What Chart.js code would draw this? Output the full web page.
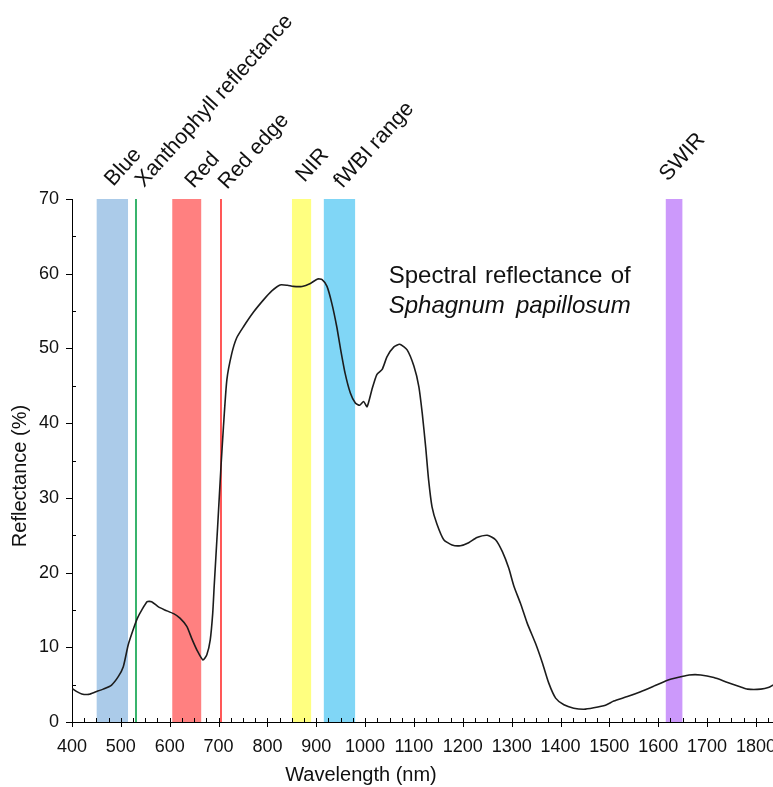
<!DOCTYPE html>
<html><head><meta charset="utf-8">
<script src="https://cdn.jsdelivr.net/npm/chart.js@4.4.1/dist/chart.umd.min.js"></script>
<style>html,body{margin:0;padding:0;background:#fff;}#wrap{width:773px;height:787px;position:relative;}</style>
</head><body><div id="wrap"><canvas id="c" width="773" height="787"></canvas></div>
<script>
// ---- data ----
const wavelengths = [400,409,420,434,449,464,481,495,505,515,526,534,543,554,563,577,590,608,621,635,645,656,668,676,683,688,691,698,705,710,717,727,737,751,772,792,809,826,841,853,871,888,903,912,922,932,942,949,959,970,980,989,997,1004,1014,1024,1035,1045,1059,1071,1086,1100,1110,1117,1124,1130,1137,1147,1161,1178,1195,1212,1229,1250,1267,1281,1294,1305,1318,1332,1349,1363,1376,1390,1407,1427,1448,1468,1492,1509,1537,1564,1591,1619,1646,1663,1687,1714,1742,1769,1783,1810,1827,1835];
const reflectance = [4.5,4.1,3.75,3.7,4.05,4.4,4.95,6.1,7.4,10.3,12.5,13.9,15.0,16.1,16.1,15.4,15.0,14.5,13.9,12.8,11.2,9.6,8.3,9.0,11.0,14.5,18.1,26.0,34.2,39.5,45.8,49.3,51.4,52.9,54.9,56.5,57.7,58.5,58.45,58.3,58.3,58.7,59.3,59.2,58.3,56.0,52.9,50.2,46.7,44.0,42.7,42.4,42.9,42.2,44.5,46.5,47.2,48.9,50.2,50.55,49.8,47.6,44.9,41.3,36.8,32.4,28.8,26.5,24.4,23.7,23.6,24.0,24.7,25.0,24.4,22.8,20.6,18.1,15.9,13.2,10.5,7.9,5.2,3.2,2.3,1.85,1.7,1.9,2.25,2.8,3.4,4.05,4.8,5.6,6.05,6.3,6.3,5.95,5.3,4.7,4.4,4.4,4.65,4.95];
const bandNames = ['Blue','Red','NIR','fWBI range','SWIR'];
const bandStart = [450,605,850,915,1615];
const bandEnd = [515,665,890,980,1650];
const bandTop = [70,70,70,70.2,70];
const lineNames = ['Xanthophyll reflectance','Red edge'];
const lineWavelengths = [531,705];
const xTicks = [400,500,600,700,800,900,1000,1100,1200,1300,1400,1500,1600,1700,1800];
const yTicks = [0,10,20,30,40,50,60,70];
const xTitle = 'Wavelength (nm)';
const yTitle = 'Reflectance (%)';
const noteLines = ['Spectral reflectance of','Sphagnum papillosum'];

// ---- styles ----
const FONT = "'Liberation Sans', Arial, sans-serif";
const bandColors = ['#abcbe9','#ff8080','#ffff80','#80d6f6','#cc99fb'];
const lineColors = ['#38b46c','#ff2020'];

const datasets = [];
datasets.push({
  label:'Spectrum',
  data: wavelengths.map((w,i)=>({x:w,y:reflectance[i]})),
  borderColor:'#1c1c1c', borderWidth:1.6, pointRadius:0, tension:0.2, fill:false, order:0
});
lineWavelengths.forEach((w,i)=>datasets.push({
  label: lineNames[i],
  data:[{x:w,y:0},{x:w,y:70}],
  borderColor: lineColors[i], borderWidth: i===0?2:1.5, pointRadius:0, fill:false, order:1
}));
bandNames.forEach((n,i)=>datasets.push({
  label:n,
  data:[{x:bandStart[i],y:bandTop[i]},{x:bandEnd[i],y:bandTop[i]}],
  borderWidth:0, borderColor:'rgba(0,0,0,0)', backgroundColor: bandColors[i], fill:'origin', pointRadius:0, order:2
}));

const labelItems = [];
bandNames.forEach((n,i)=>labelItems.push({text:n, w:(bandStart[i]+bandEnd[i])/2}));
lineNames.forEach((n,i)=>labelItems.push({text:n, w:lineWavelengths[i]}));
labelItems.sort((a,b)=>a.w-b.w);
const labelNudge = {'Blue':[1,-2],'Xanthophyll reflectance':[8,-1],'Red':[7,0],'Red edge':[6,1],'NIR':[3,-6],'fWBI range':[3,0],'SWIR':[-6,-7]};

const decor = {
  id:'decor',
  afterDraw(chart){
    const ctx = chart.ctx, ca = chart.chartArea, sx = chart.scales.x, sy = chart.scales.y;
    ctx.save();
    ctx.strokeStyle = '#000'; ctx.lineWidth = 1;
    ctx.beginPath();
    for (let v = 400; v <= 1835; v += 25) {
      const px = Math.round(sx.getPixelForValue(v)) + 0.5;
      if (v % 100 === 0) { ctx.moveTo(px, ca.bottom - 4); ctx.lineTo(px, ca.bottom + 5); }
      else { ctx.moveTo(px, ca.bottom - 4); ctx.lineTo(px, ca.bottom); }
    }
    for (let v = 0; v <= 70; v += 5) {
      const py = Math.round(sy.getPixelForValue(v)) + 0.5;
      if (v % 10 === 0) { ctx.moveTo(ca.left - 6, py); ctx.lineTo(ca.left, py); }
      else { ctx.moveTo(ca.left, py); ctx.lineTo(ca.left + 4, py); }
    }
    ctx.stroke();

    ctx.fillStyle = '#111';
    ctx.font = '20px ' + FONT;
    ctx.textAlign = 'center'; ctx.textBaseline = 'middle';
    ctx.fillText(xTitle, 361, 775);
    ctx.save(); ctx.translate(20, 476); ctx.rotate(-Math.PI/2); ctx.fillText(yTitle, 0, 0); ctx.restore();

    ctx.font = '21.5px ' + FONT;
    ctx.textAlign = 'left'; ctx.textBaseline = 'alphabetic';
    const ang = -48 * Math.PI / 180;
    labelItems.forEach(it=>{
      const nud = labelNudge[it.text] || [0,0];
      const px = sx.getPixelForValue(it.w) + nud[0];
      const py = sy.getPixelForValue(70) - 10 + nud[1];
      ctx.save(); ctx.translate(px, py); ctx.rotate(ang); ctx.fillText(it.text, 0, 0); ctx.restore();
    });

    const cx = sx.getPixelForValue(1296);
    const boxW = 242;
    const fonts = ['24px ' + FONT, 'italic 24px ' + FONT];
    const ys = [sy.getPixelForValue(59.7), sy.getPixelForValue(55.7)];
    ctx.textBaseline = 'middle'; ctx.textAlign = 'left';
    noteLines.forEach((line, li)=>{
      ctx.font = fonts[li];
      const words = line.split(' ');
      const widths = words.map(w=>ctx.measureText(w).width);
      const total = widths.reduce((a,b)=>a+b,0);
      const gap = (boxW - total) / (words.length - 1);
      let x = cx - boxW/2;
      words.forEach((w,i)=>{ ctx.fillText(w, x, ys[li]); x += widths[i] + gap; });
    });
    ctx.restore();
  }
};

new Chart(document.getElementById('c'), {
  type:'line',
  data:{datasets},
  options:{
    responsive:false, animation:false, devicePixelRatio:1,
    layout:{padding:{top:199,left:0,right:0,bottom:0}},
    plugins:{legend:{display:false}, tooltip:{enabled:false}},
    scales:{
      x:{
        type:'linear', min:400, max:1835,
        afterBuildTicks:s=>{ s.ticks = xTicks.map(v=>({value:v})); },
        afterFit:s=>{ s.height = 65; s.paddingLeft = 0; s.paddingRight = 0; },
        ticks:{autoSkip:false, maxRotation:0, minRotation:0, padding:14, color:'#111', font:{size:18, family:FONT}, callback:v=>String(v)},
        grid:{display:false, drawTicks:false},
        border:{display:true, color:'#000', width:1}
      },
      y:{
        type:'linear', min:0, max:70,
        afterBuildTicks:s=>{ s.ticks = yTicks.map(v=>({value:v})); },
        afterFit:s=>{ s.width = 72; s.paddingTop = 0; s.paddingBottom = 0; },
        ticks:{padding:13, color:'#111', font:{size:18, family:FONT}, callback:v=>String(v)},
        grid:{display:false, drawTicks:false},
        border:{display:true, color:'#000', width:1}
      }
    }
  },
  plugins:[decor]
});
</script></body></html>
